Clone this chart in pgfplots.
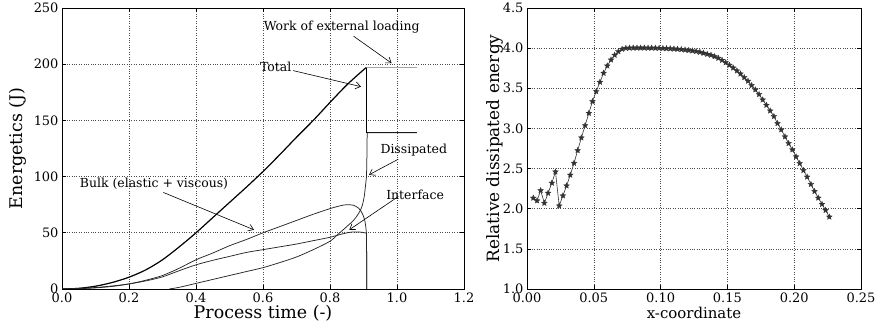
\documentclass[border=0pt]{standalone}
\usepackage{fontspec}
\setmainfont{DejaVu Serif}
\usepackage{pgfplots}
\pgfplotsset{compat=1.18}
\usetikzlibrary{arrows.meta}

\pgfdeclareplotmark{fstar}{%
  \pgfpathmoveto{\pgfpointpolar{90}{\pgfplotmarksize}}%
  \pgfpathlineto{\pgfpointpolar{126}{0.45\pgfplotmarksize}}%
  \pgfpathlineto{\pgfpointpolar{162}{\pgfplotmarksize}}%
  \pgfpathlineto{\pgfpointpolar{198}{0.45\pgfplotmarksize}}%
  \pgfpathlineto{\pgfpointpolar{234}{\pgfplotmarksize}}%
  \pgfpathlineto{\pgfpointpolar{270}{0.45\pgfplotmarksize}}%
  \pgfpathlineto{\pgfpointpolar{306}{\pgfplotmarksize}}%
  \pgfpathlineto{\pgfpointpolar{342}{0.45\pgfplotmarksize}}%
  \pgfpathlineto{\pgfpointpolar{18}{\pgfplotmarksize}}%
  \pgfpathlineto{\pgfpointpolar{54}{0.45\pgfplotmarksize}}%
  \pgfpathclose\pgfusepathqfillstroke}

\pgfplotsset{
  mystyle/.style={
    scale only axis,
    /pgf/number format/assume math mode=true,
    tick label style={font=\fontsize{13}{15}\selectfont},
    label style={font=\fontsize{17.5}{20}\selectfont},
    tick align=inside,
    tick style={black, line width=0.6bp},
    major tick length=4bp,
    axis line style={line width=0.8bp},
    grid=major,
    major grid style={dotted, black!70, line width=0.6bp},
  }
}

\begin{document}
\begin{tikzpicture}
\useasboundingbox (0,0) rectangle (875bp,328bp);

\begin{axis}[mystyle,
  at={(62bp,39bp)}, anchor=south west,
  width=402bp, height=281bp,
  xmin=0, xmax=1.2, ymin=0, ymax=250,
  xtick={0,0.2,0.4,0.6,0.8,1.0,1.2},
  ytick={0,50,100,150,200,250},
  xticklabel style={/pgf/number format/.cd, fixed, fixed zerofill, precision=1},
  yticklabel style={/pgf/number format/.cd, fixed, precision=0},
  xlabel={Process time (-)},
  ylabel={Energetics (J)},
  xlabel style={at={(axis description cs:0.5,-0.085)}, anchor=center},
  ylabel style={at={(axis description cs:-0.109,0.5)}, anchor=center},
]
% Work of external loading (gray)
\addplot[gray!70, line width=1.1bp, smooth, tension=0.5] coordinates {
(0,0)(0.05,0.6)(0.1,2.5)(0.15,5.8)(0.2,10.5)(0.25,17)(0.3,26)(0.35,37.5)(0.4,50)(0.45,63.5)(0.5,77)(0.55,90.5)(0.6,104.5)(0.65,119.5)(0.7,135)(0.75,150)(0.8,166)(0.85,181.5)(0.9,195)(0.909,197)};
\addplot[gray!70, line width=1.1bp] coordinates {(0.909,197)(1.059,197)};
% Total
\addplot[black, line width=1.1bp, smooth, tension=0.5] coordinates {
(0,0)(0.05,0.6)(0.1,2.5)(0.15,5.8)(0.2,10.5)(0.25,17)(0.3,26)(0.35,37.5)(0.4,50)(0.45,63.5)(0.5,77)(0.55,90.5)(0.6,104.5)(0.65,119.5)(0.7,135)(0.75,150)(0.8,166)(0.85,181.5)(0.9,195)(0.909,197)};
\addplot[black, line width=1.1bp] coordinates {(0.909,197)(0.909,139)(1.059,139)};
% Bulk
\addplot[black!85, line width=0.75bp, smooth, tension=0.5] coordinates {
(0,0)(0.05,0.3)(0.1,1)(0.15,2.3)(0.2,4.5)(0.25,7.8)(0.3,12)(0.35,18.5)(0.4,26)(0.45,32)(0.5,38.5)(0.55,44)(0.6,50)(0.65,55.5)(0.7,61)(0.75,66.5)(0.8,71.5)(0.83,74)(0.85,75)(0.87,74.5)(0.885,72)(0.895,68)(0.903,62)(0.907,55)(0.909,48)};
\addplot[black!85, line width=0.75bp] coordinates {(0.909,48)(0.91,0)};
% Interface
\addplot[black!85, line width=0.75bp, smooth, tension=0.5] coordinates {
(0,0)(0.05,0.5)(0.1,1.3)(0.15,2.7)(0.2,4.5)(0.25,7.2)(0.3,10.8)(0.35,16.3)(0.4,21.5)(0.45,25.5)(0.5,29)(0.55,32.5)(0.6,35)(0.65,37.5)(0.7,40)(0.75,43)(0.8,46)(0.83,48.5)(0.86,50.5)(0.88,50.8)(0.9,50.3)(0.909,49.5)};
\addplot[black!85, line width=0.75bp] coordinates {(0.909,49.5)(0.91,0)};
% Dissipated
\addplot[black!85, line width=0.75bp] coordinates {(0,0)(0.32,0)};
\addplot[black!85, line width=0.75bp, smooth, tension=0.5] coordinates {
(0.32,0)(0.35,1.5)(0.4,5)(0.45,8.5)(0.5,12)(0.55,15.5)(0.6,19)(0.65,23.5)(0.7,28.5)(0.75,35)(0.8,42.5)(0.825,49)(0.85,55.5)(0.87,61)(0.885,67)(0.895,73)(0.902,82)(0.906,92)(0.909,100)};
\addplot[black!85, line width=0.75bp] coordinates {(0.909,100)(0.91,115)(0.911,139)(1.059,139)};

% annotations
\tikzset{ann/.style={font=\fontsize{12.5}{14}\selectfont, inner sep=0pt},
         arr/.style={-{Straight Barb[length=5bp,width=7bp]}, line width=0.6bp, black}}
\node[ann] at (axis cs:0.835,233.4) {Work of external loading};
\draw[arr] (axis cs:0.87,225) -- (axis cs:0.984,200.9);
\node[ann] at (axis cs:0.638,197.8) {Total};
\draw[arr] (axis cs:0.69,194.3) -- (axis cs:0.8925,180);
\node[ann] at (axis cs:1.05,123.2) {Dissipated};
\draw[arr] (axis cs:1.004,115.5) -- (axis cs:0.9164,101.6);
\node[ann] at (axis cs:1.054,83.8) {Interface};
\draw[arr] (axis cs:1.004,82.3) -- (axis cs:0.8577,52.7);
\node[ann] at (axis cs:0.2746,93.3) {Bulk (elastic + viscous)};
\draw[arr] (axis cs:0.3024,85.9) -- (axis cs:0.573,52.7);
\end{axis}

\begin{axis}[mystyle,
  at={(527bp,39bp)}, anchor=south west,
  width=334bp, height=281bp,
  xmin=0, xmax=0.25, ymin=1.0, ymax=4.5,
  xtick={0,0.05,0.10,0.15,0.20,0.25},
  ytick={1.0,1.5,2.0,2.5,3.0,3.5,4.0,4.5},
  xticklabel style={/pgf/number format/.cd, fixed, fixed zerofill, precision=2},
  yticklabel style={/pgf/number format/.cd, fixed, fixed zerofill, precision=1},
  xlabel={x-coordinate},
  ylabel={Relative dissipated energy},
  xlabel style={font=\fontsize{15}{17}\selectfont, at={(axis description cs:0.5,-0.085)}, anchor=center},
  ylabel style={font=\fontsize{17}{19}\selectfont, at={(axis description cs:-0.096,0.5)}, anchor=center},
]
\addplot[black!80, line width=0.6bp, mark=fstar, mark size=3bp,
  mark options={fill=black!80, draw=black!80, line width=0.3bp}] coordinates {
(0.0047,2.133)(0.0075,2.100)(0.0102,2.228)(0.0130,2.070)(0.0158,2.195)
(0.0186,2.320)(0.0213,2.460)(0.0241,2.037)(0.0269,2.162)(0.0296,2.286)
(0.0324,2.420)(0.0352,2.568)(0.0379,2.726)(0.0407,2.884)(0.0435,3.037)
(0.0463,3.190)(0.0490,3.336)(0.0518,3.460)(0.0546,3.577)(0.0573,3.689)
(0.0601,3.780)(0.0629,3.855)(0.0656,3.913)(0.0684,3.958)(0.0712,3.988)
(0.0740,4.000)(0.0767,4.002)(0.0795,4.003)(0.0823,4.003)(0.0850,4.003)
(0.0878,4.003)(0.0906,4.002)(0.0933,4.002)(0.0961,4.001)(0.0989,4.000)
(0.1017,3.998)(0.1044,3.996)(0.1072,3.994)(0.1100,3.991)(0.1127,3.988)
(0.1155,3.984)(0.1183,3.979)(0.1210,3.973)(0.1238,3.967)(0.1266,3.960)
(0.1294,3.950)(0.1321,3.938)(0.1349,3.925)(0.1377,3.913)(0.1404,3.896)
(0.1432,3.876)(0.1460,3.850)(0.1487,3.820)(0.1515,3.789)(0.1543,3.755)
(0.1571,3.718)(0.1598,3.680)(0.1626,3.635)(0.1654,3.590)(0.1681,3.536)
(0.1709,3.482)(0.1737,3.424)(0.1764,3.357)(0.1792,3.290)(0.1820,3.220)
(0.1848,3.150)(0.1875,3.063)(0.1903,2.984)(0.1931,2.897)(0.1958,2.814)
(0.1986,2.735)(0.2014,2.648)(0.2041,2.565)(0.2069,2.478)(0.2097,2.396)
(0.2125,2.304)(0.2152,2.217)(0.2180,2.134)(0.2208,2.056)(0.2235,1.981)
(0.2263,1.898)};
\end{axis}
\end{tikzpicture}
\end{document}
